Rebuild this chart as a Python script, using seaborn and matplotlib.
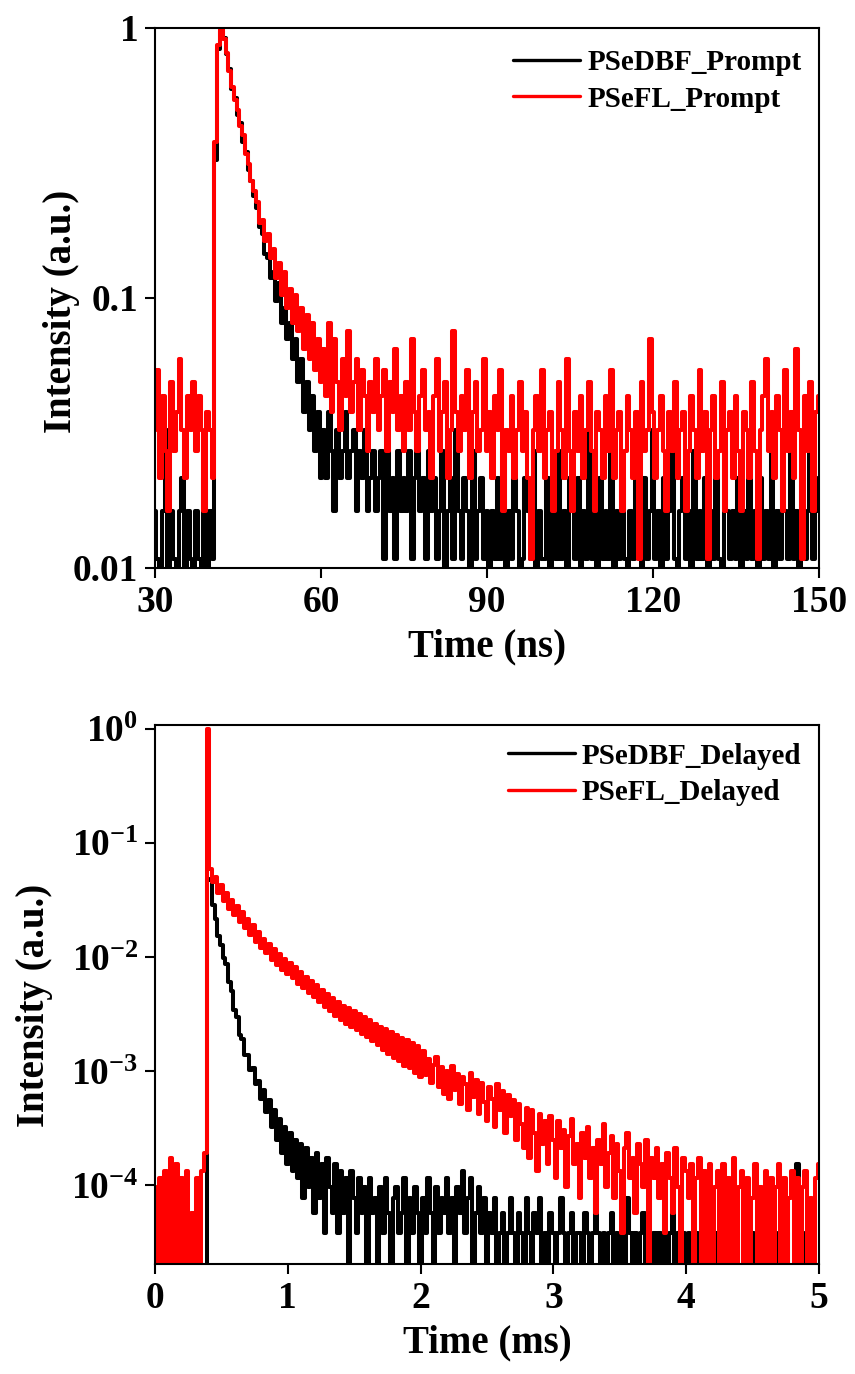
import numpy as np
import matplotlib
matplotlib.use("Agg")
import matplotlib.pyplot as plt
import seaborn as sns
from matplotlib.ticker import FixedLocator, FixedFormatter, NullLocator

# ------------------------------------------------------------------ data
# Prompt (ns) decay: photon counts per channel, normalised by the peak count
prompt_t0 = 30.0          # ns, first channel
prompt_dt = 0.5           # ns, channel width
prompt_peak_counts = 185

prompt_dbf_counts = [
    3, 2, 0, 3, 6, 1, 3, 2, 0, 3, 4, 1, 3, 2, 0, 3, 2, 1, 4, 0, 3, 2,
    60, 155, 180, 170, 148, 130, 110, 102, 88, 82, 70, 64, 55, 50, 44, 40, 34, 32, 27, 26, 22, 23,
    18, 21, 15, 17, 13, 15, 11, 13, 9, 11, 7, 9, 6, 8, 5, 7, 4,
    6, 4, 7, 5, 3, 6, 4, 5, 7, 4,
    5, 6, 3, 5, 4, 6, 3, 4, 5, 3,
    4, 5, 2, 5, 3, 4, 2, 5, 3, 4,
    3, 5, 2, 4, 6, 3, 4, 2, 5, 3,
    4, 2, 3, 5, 1, 3, 4, 2, 6, 3,
    2, 4, 3, 1, 5, 2, 3, 4, 2, 3,
    1, 3, 2, 4, 2, 5, 1, 3, 2, 4,
    3, 1, 2, 4, 3, 2, 5, 1, 3, 2,
    2, 4, 1, 3, 2, 5, 2, 3, 1, 4,
    3, 2, 4, 1, 3, 2, 6, 2, 3, 1,
    4, 2, 3, 2, 5, 1, 3, 2, 4, 2,
    1, 3, 2, 5, 3, 1, 4, 2, 3, 6,
    2, 3, 1, 4, 2, 3, 5, 2, 1, 3,
    4, 2, 3, 1, 5, 2, 3, 2, 4, 1,
    3, 2, 4, 2, 1, 5, 3, 2, 3, 2,
    4, 1, 3, 2, 5, 2, 3, 1, 4, 2,
    3, 2, 5, 1, 3, 2, 4, 3, 2, 6,
    2, 3, 1, 4, 2, 3, 5, 2, 3, 4,
]

prompt_fl_counts = [
    6, 10, 4, 8, 5, 3, 9, 5, 7, 11, 6, 4, 8, 6, 9, 5, 8, 6, 3, 7, 6, 4,
    70, 160, 185, 168, 150, 128, 112, 100, 92, 80, 74, 63, 58, 50, 46, 42, 35, 36, 30, 32,
    26, 28, 22, 25, 19, 23, 17, 20, 15, 19, 14, 17, 12, 16, 11, 15, 10, 13, 9,
    12, 8, 15, 7, 13, 9, 6, 11, 8, 14,
    7, 9, 11, 6, 10, 8, 5, 9, 7, 11,
    6, 8, 10, 5, 9, 7, 12, 6, 8, 5,
    9, 6, 13, 7, 5, 8, 10, 6, 7, 4,
    8, 11, 5, 7, 9, 4, 6, 14, 7, 5,
    8, 6, 10, 4, 7, 9, 5, 6, 11, 5,
    7, 4, 8, 6, 10, 3, 6, 5, 8, 4,
    6, 9, 5, 7, 4, 2, 6, 8, 5, 10,
    4, 6, 7, 3, 5, 9, 6, 4, 11, 5,
    3, 7, 5, 8, 4, 6, 9, 5, 3, 7,
    6, 4, 8, 5, 10, 4, 6, 7, 3, 5,
    8, 6, 4, 7, 2, 9, 5, 6, 13, 7,
    4, 6, 8, 5, 3, 7, 5, 9, 4, 6,
    7, 3, 5, 8, 6, 4, 10, 5, 7, 2,
    6, 8, 4, 5, 9, 3, 6, 7, 4, 8,
    5, 3, 7, 6, 4, 9, 5, 2, 6, 8,
    11, 5, 7, 4, 8, 6, 3, 10, 5, 7,
    4, 12, 6, 2, 8, 5, 9, 3, 7, 8,
]

# Delayed (ms) decay
delayed_t0 = 0.0          # ms
delayed_dt = 0.02         # ms
delayed_peak_counts = 52000

delayed_dbf_counts = [
    1, 0, 1, 0, 1, 1, 0, 1, 0, 1, 0, 1, 1, 0, 1, 0, 1, 0, 1, 1,
    2500,
    2450, 1500, 1130, 800, 670, 510, 450, 315, 262, 178,
    155, 108, 100, 72, 72, 53, 56, 40, 43, 30,
    36, 23, 29, 17, 24, 13, 20, 10, 17, 8,
    15, 7, 13, 6, 12, 4, 11, 5, 9, 3,
    10, 4, 8, 2, 9, 5, 3, 8, 2, 7,
    3, 6, 1, 7, 4, 2, 6, 3, 5, 1,
    6, 3, 4, 1, 5, 2, 6, 3, 1, 4,
    5, 2, 3, 6, 1, 4, 2, 5, 3, 1,
    4, 2, 6, 3, 1, 5, 2, 4, 3, 6,
    2, 4, 1, 5, 3, 7, 2, 4, 6, 1,
    3, 5, 2, 4, 1, 3, 2, 4, 1, 2,
    3, 1, 2, 4, 2, 1, 3, 2, 0, 4,
    2, 1, 3, 2, 4, 1, 2, 0, 3, 2,
    1, 2, 4, 2, 0, 2, 3, 1, 2, 2,
    0, 3, 2, 1, 2, 4, 2, 0, 2, 1,
    2, 3, 1, 2, 0, 2, 1, 4, 2, 1,
    2, 0, 2, 3, 1, 2, 0, 2, 1, 2,
    1, 2, 0, 2, 3, 1, 2, 0, 2, 1,
    2, 1, 0, 2, 1, 2, 1, 2, 0, 1,
    2, 1, 0, 2, 1, 0, 2, 1, 1, 0,
    1, 2, 0, 1, 2, 1, 0, 2, 1, 0,
    2, 1, 0, 1, 2, 0, 1, 2, 1, 0,
    1, 8, 0, 2, 1, 0, 2, 1, 0, 1,
]

delayed_fl_counts = [
    5, 0, 6, 1, 7, 0, 9, 1, 8, 0, 6, 1, 7, 0, 3, 1, 6, 0, 7, 10,
    52000,
    3100, 2350, 2600, 1880, 2250, 1600, 1880, 1380, 1650, 1220,
    1460, 1060, 1290, 940, 1130, 820, 990, 700, 860, 620,
    750, 570, 680, 490, 610, 445, 555, 400, 500, 370,
    460, 340, 425, 305, 385, 280, 350, 250, 320, 232,
    295, 210, 270, 190, 245, 175, 228, 158, 210, 146,
    195, 136, 186, 128, 174, 120, 164, 111, 156, 104,
    146, 96, 136, 88, 128, 80, 122, 74, 114, 68,
    108, 64, 102, 58, 98, 55, 92, 50, 86, 46,
    78, 48, 66, 41, 59, 70, 38, 57, 33, 52,
    30, 58, 36, 49, 27, 46, 40, 24, 50, 31,
    44, 22, 41, 28, 19, 38, 30, 17, 40, 24,
    35, 15, 32, 21, 29, 13, 27, 18, 11, 25,
    9, 24, 15, 7, 22, 12, 19, 8, 21, 13,
    6, 19, 11, 16, 5, 14, 20, 8, 12, 4,
    15, 9, 17, 6, 11, 3, 13, 8, 18, 5,
    10, 14, 4, 12, 7, 2, 11, 15, 6, 9,
    3, 12, 8, 5, 13, 1, 9, 6, 11, 4,
    8, 2, 10, 6, 3, 11, 5, 0, 9, 7,
    4, 8, 1, 6, 9, 1, 7, 0, 8, 1,
    5, 7, 0, 8, 1, 6, 1, 9, 0, 5,
    7, 1, 6, 0, 4, 8, 1, 5, 0, 7,
    1, 6, 0, 5, 8, 1, 6, 0, 4, 7,
    1, 6, 0, 5, 7, 1, 4, 0, 6, 8,
]

prompt_labels = ["PSeDBF_Prompt", "PSeFL_Prompt"]
delayed_labels = ["PSeDBF_Delayed", "PSeFL_Delayed"]
series_colors = ["#000000", "#FF0000"]

prompt_xticks = [30, 60, 90, 120, 150]
prompt_yticks = [0.01, 0.1, 1]
prompt_yticklabels = ["0.01", "0.1", "1"]
delayed_xticks = [0, 1, 2, 3, 4, 5]
delayed_yticks = [1e0, 1e-1, 1e-2, 1e-3, 1e-4]
delayed_yticklabels = [r"$\mathbf{10^{0}}$", r"$\mathbf{10^{-1}}$", r"$\mathbf{10^{-2}}$",
                       r"$\mathbf{10^{-3}}$", r"$\mathbf{10^{-4}}$"]

# ------------------------------------------------------------------ style
sns.set_style("ticks", {"axes.edgecolor": "black", "xtick.color": "black",
                        "ytick.color": "black", "text.color": "black",
                        "axes.labelcolor": "black"})
plt.rcParams["font.family"] = ["Liberation Serif", "DejaVu Serif"]
plt.rcParams["font.weight"] = "bold"
plt.rcParams["axes.labelweight"] = "bold"
plt.rcParams["mathtext.fontset"] = "custom"
plt.rcParams["mathtext.rm"] = "Liberation Serif:bold"
plt.rcParams["mathtext.bf"] = "Liberation Serif:bold"
plt.rcParams["mathtext.it"] = "Liberation Serif:bold:italic"

fig = plt.figure(figsize=(8.55, 13.74), dpi=100)
W, H = 855.0, 1374.0
ax1 = fig.add_axes([155 / W, 1 - 568 / H, 664 / W, 540 / H])
ax2 = fig.add_axes([155 / W, 1 - 1264 / H, 664 / W, 539 / H])


def draw(ax, t0, dt, peak, series, labels):
    for counts, lab, col in zip(series, labels, series_colors):
        counts = np.asarray(counts, dtype=float)
        t = t0 + dt * np.arange(len(counts))
        sns.lineplot(x=t, y=counts / peak, ax=ax, color=col, linewidth=2.9,
                     drawstyle="steps-mid", label=lab, estimator=None, sort=False)


draw(ax1, prompt_t0, prompt_dt, prompt_peak_counts,
     [prompt_dbf_counts, prompt_fl_counts], prompt_labels)
draw(ax2, delayed_t0, delayed_dt, delayed_peak_counts,
     [delayed_dbf_counts, delayed_fl_counts], delayed_labels)

for ax, anchor_y in ((ax1, 0.993), (ax2, 1.0)):
    ax.set_yscale("log")
    for s in ax.spines.values():
        s.set_linewidth(1.5)
        s.set_color("black")
        s.set_visible(True)
        s.set_zorder(5)
    ax.tick_params(axis="both", which="major", direction="out", length=7, width=1.5,
                   labelsize=27, pad=5, top=False, right=False)
    ax.tick_params(axis="both", which="minor", length=0)
    ax.yaxis.set_minor_locator(NullLocator())
    leg = ax.legend(loc="upper right", bbox_to_anchor=(1.0, anchor_y), frameon=False,
                    handlelength=2.3, handletextpad=0.25, labelspacing=0.32,
                    borderaxespad=0.2, prop={"weight": "bold", "size": 21})
    for h in leg.get_lines():
        h.set_linewidth(2.4)

ax1.set_xlim(30, 150)
ax1.set_ylim(0.01, 1)
ax1.xaxis.set_major_locator(FixedLocator(prompt_xticks))
ax1.yaxis.set_major_locator(FixedLocator(prompt_yticks))
ax1.yaxis.set_major_formatter(FixedFormatter(prompt_yticklabels))
ax1.set_xlabel("Time (ns)", fontsize=28, fontweight="bold", labelpad=6)
ax1.set_ylabel("Intensity (a.u.)", fontsize=28, fontweight="bold")
ax1.yaxis.set_label_coords((80 - 155) / 664, (568 - 311) / 540)

ax2.set_xlim(0, 5)
ax2.set_ylim(2.05e-5, 1.08)
ax2.xaxis.set_major_locator(FixedLocator(delayed_xticks))
ax2.yaxis.set_major_locator(FixedLocator(delayed_yticks))
ax2.yaxis.set_major_formatter(FixedFormatter(delayed_yticklabels))
ax2.set_xlabel("Time (ms)", fontsize=28, fontweight="bold", labelpad=6)
ax2.set_ylabel("Intensity (a.u.)", fontsize=28, fontweight="bold")
ax2.yaxis.set_label_coords((53 - 155) / 664, (1264 - 1005) / 539)

for ax in (ax1, ax2):
    for lab in ax.get_xticklabels() + ax.get_yticklabels():
        lab.set_fontweight("bold")
        lab.set_fontsize(27)

fig.savefig("out.png", dpi=100, facecolor="white")
